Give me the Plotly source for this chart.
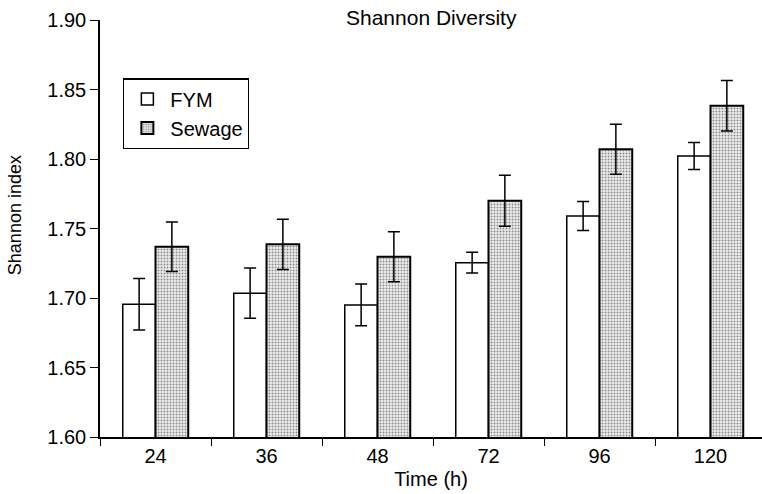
import plotly.graph_objects as go

# Sampling times (h)
times = ["24", "36", "48", "72", "96", "120"]

# Shannon index means and standard errors
fym_mean = [1.6955, 1.7035, 1.6950, 1.7254, 1.7590, 1.8022]
fym_err = [0.0185, 0.0180, 0.0150, 0.0075, 0.0105, 0.0097]
sewage_mean = [1.7369, 1.7386, 1.7297, 1.7700, 1.8070, 1.8383]
sewage_err = [0.0178, 0.0181, 0.0180, 0.0183, 0.0180, 0.0181]

font_family = "Liberation Sans, Arial, Helvetica, sans-serif"
fs = 20

fig = go.Figure()

fig.add_trace(go.Bar(
    name="FYM",
    x=times,
    y=fym_mean,
    marker=dict(color="white", line=dict(color="black", width=1.5)),
    error_y=dict(type="data", array=fym_err, visible=True,
                 color="black", thickness=1.5, width=6),
))

fig.add_trace(go.Bar(
    name="Sewage",
    x=times,
    y=sewage_mean,
    marker=dict(
        color="#d8d8d8",
        line=dict(color="black", width=2),
        pattern=dict(shape=".", fgcolor="#8c8c8c", bgcolor="#eeeeee",
                     size=3, solidity=0.33, fillmode="replace"),
    ),
    error_y=dict(type="data", array=sewage_err, visible=True,
                 color="black", thickness=1.5, width=6),
))

fig.update_layout(
    width=762,
    height=494,
    margin=dict(l=100, r=0, t=20, b=57),
    paper_bgcolor="white",
    plot_bgcolor="white",
    barmode="group",
    bargap=0.41,
    bargroupgap=0,
    font=dict(family=font_family, size=fs, color="black"),
    showlegend=True,
    legend=dict(
        x=0.035, y=0.86, xanchor="left", yanchor="top",
        bordercolor="black", borderwidth=1.2, bgcolor="white",
        font=dict(size=fs),
        itemwidth=36,
    ),
    annotations=[
        dict(text="Shannon Diversity", x=0.5, y=1, xref="paper", yref="paper",
             xanchor="center", yanchor="middle", yshift=3, showarrow=False,
             font=dict(size=21)),
        dict(text="Shannon index", x=-0.1284, y=0.532, xref="paper",
             yref="paper", xanchor="center", yanchor="middle",
             textangle=-90, showarrow=False, font=dict(size=18)),
    ],
)

fig.update_xaxes(
    type="category",
    range=[-0.5, 5.464],
    tickson="boundaries",
    ticks="outside",
    ticklen=7,
    tickwidth=1.2,
    tickcolor="black",
    tickfont=dict(size=fs),
    showline=True,
    linecolor="black",
    linewidth=1.5,
    showgrid=False,
    title=dict(text="Time (h)", standoff=6, font=dict(size=fs)),
)

fig.update_yaxes(
    range=[1.60, 1.90],
    tick0=1.60,
    dtick=0.05,
    tickformat=".2f",
    ticks="outside",
    ticklen=8,
    tickwidth=1.2,
    tickcolor="black",
    tickfont=dict(size=fs),
    showline=True,
    linecolor="black",
    linewidth=1.5,
    showgrid=False,
    zeroline=False,
)

fig.write_html("out.html")
